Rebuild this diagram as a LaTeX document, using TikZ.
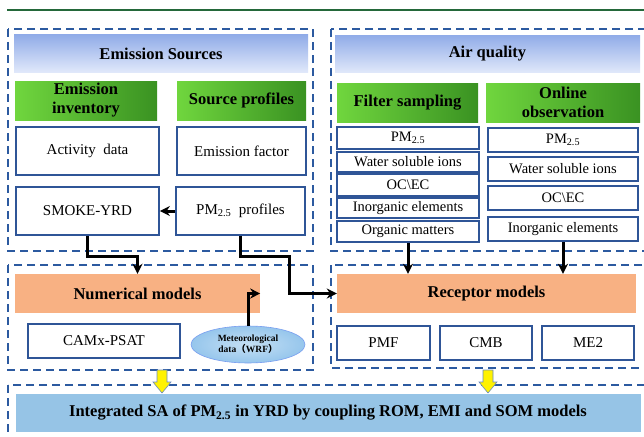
\documentclass[tikz,border=0pt]{standalone}
\usepackage{fontspec}
\setmainfont{Liberation Serif}
\newfontfamily\cjk{Noto Sans CJK SC}
\usetikzlibrary{arrows.meta,positioning,calc,shapes.geometric}
\definecolor{frameblue}{RGB}{44,90,160}
\definecolor{boxblue}{RGB}{47,85,151}
\definecolor{headtop}{RGB}{145,172,232}
\definecolor{headbot}{RGB}{224,232,250}
\definecolor{greenL}{RGB}{112,214,62}
\definecolor{greenR}{RGB}{58,146,34}
\definecolor{modorange}{RGB}{248,177,131}
\definecolor{integblue}{RGB}{150,196,230}
\definecolor{metblue}{RGB}{150,198,236}
\definecolor{linegreen}{RGB}{36,104,58}
\begin{document}
\begin{tikzpicture}[x=1pt,y=-1pt,>={Stealth[length=10pt,width=10pt]},
 frame/.style={draw=frameblue,dash pattern=on 8pt off 5pt,line width=1.6pt},
 head/.style={top color=headtop,bottom color=headbot,inner sep=0pt,minimum height=37pt,align=center,font=\fontsize{16.5}{18}\selectfont\bfseries},
 sub/.style={left color=greenL,right color=greenR,inner sep=0pt,minimum height=39pt,align=center,font=\fontsize{16.5}{19}\selectfont\bfseries},
 cell/.style={draw=boxblue,fill=white,line width=1.8pt,inner sep=0pt,minimum height=48pt,align=center,font=\fontsize{15}{17}\selectfont},
 item/.style={cell,line width=1.6pt,font=\fontsize{14.5}{16}\selectfont},
 model/.style={fill=modorange,inner sep=0pt,minimum height=39pt,font=\fontsize{16.5}{18}\selectfont\bfseries},
 link/.style={->,line width=3pt,line join=miter},
 yarrow/.style={fill=yellow,draw=frameblue!70,line width=0.6pt}]
\clip (0,0) rectangle (644,436);
\fill[white] (0,0) rectangle (644,436);
\draw[linegreen,line width=2.2pt] (7,10) -- (650,10);
\draw[frame] (8,29) rectangle (313,251);
\draw[frame] (331,29) rectangle (650,251);
\draw[frame] (8,265) rectangle (313,370);
\draw[frame] (331,265) rectangle (650,368);
\draw[frame] (8,385) rectangle (650,445);
\node[head,minimum width=294pt] (src) at (161,53.5) {Emission Sources};
\node[head,minimum width=305pt] (aq) at (487.5,54) {Air quality};
\node[sub,minimum width=142pt] (inv) at (86,100.5) {Emission\\inventory};
\node[sub,minimum width=129pt] (prof) at (241.5,100.5) {Source profiles};
\node[cell,minimum width=143pt] (act) at (87.5,151) {Activity\ \ data};
\node[cell,minimum width=129pt] (ef) at (241.5,151) {Emission factor};
\node[cell,minimum width=143pt] (smoke) at (87.5,211) {SMOKE-YRD};
\node[cell,minimum width=129pt] (pmprof) at (240.5,211) {PM\textsubscript{2.5}\ \ profiles};
\node[sub,minimum width=141pt] (filt) at (407.5,102.5) {Filter sampling};
\node[sub,minimum width=154pt] (onl) at (563,102.5) {Online\\observation};
\node[item,minimum width=142pt,minimum height=22pt] (f1) at (408,138) {PM\textsubscript{2.5}};
\node[item,minimum width=142pt,minimum height=20pt] (f2) at (408,162) {Water soluble ions};
\node[item,minimum width=142pt,minimum height=22pt] (f3) at (408,185) {OC\textbackslash EC};
\node[item,minimum width=142pt,minimum height=20pt] (f4) at (408,208) {Inorganic elements};
\node[item,minimum width=142pt,minimum height=21pt] (f5) at (408,231.5) {Organic matters};
\node[item,minimum width=150pt,minimum height=24pt] (o1) at (563,140) {PM\textsubscript{2.5}};
\node[item,minimum width=150pt,minimum height=24pt] (o2) at (563,169) {Water soluble ions};
\node[item,minimum width=150pt,minimum height=24pt] (o3) at (563,198) {OC\textbackslash EC};
\node[item,minimum width=150pt,minimum height=24pt] (o4) at (563,229) {Inorganic elements};
\node[model,minimum width=245pt] (num) at (137.5,293.5) {Numerical models};
\node[cell,minimum width=152pt,minimum height=34pt] (camx) at (104,341) {CAMx-PSAT};
\node[ellipse,draw=metblue!80!blue,inner color=metblue!55,outer color=metblue,line width=0.6pt,minimum width=114pt,minimum height=37pt,inner sep=0pt,align=center,font=\fontsize{9.5}{11}\selectfont\bfseries] (met) at (248,344.5) {Meteorological\\data{\cjk （}WRF{\cjk ）}};
\node[model,minimum width=299pt] (rec) at (486.5,293.5) {Receptor models};
\node[cell,minimum width=93pt,minimum height=34pt] (pmf) at (383.5,343) {PMF};
\node[cell,minimum width=92pt,minimum height=34pt] (cmb) at (486,343) {CMB};
\node[cell,minimum width=92pt,minimum height=34pt] (me2) at (588,343) {ME2};
\node[fill=integblue,draw=white,line width=1pt,inner sep=0pt,minimum width=626pt,minimum height=39pt,font=\fontsize{16.5}{18}\selectfont\bfseries] (integ) at (328,412.5) {Integrated SA of PM\textsubscript{2.5} in YRD by coupling ROM, EMI and SOM models};
\draw[link] (pmprof) -- (smoke);
\draw[link] (smoke.south) -- ++(0,21) -| (num.north);
\draw[link] (pmprof.south) -- ++(0,21) -| ([xshift=-47pt]rec.west) -- (rec.west);
\draw[link] (met.north) |- (num.east);
\draw[link] (f5.south) -- (f5.south |- rec.north);
\draw[link] (o4.south) -- (o4.south |- rec.north);
\foreach \x in {162,488}
 \draw[yarrow] (\x-5,370) -- (\x+5,370) -- (\x+5,382) -- (\x+9,382) -- (\x,393) -- (\x-9,382) -- (\x-5,382) -- cycle;
\end{tikzpicture}
\end{document}
